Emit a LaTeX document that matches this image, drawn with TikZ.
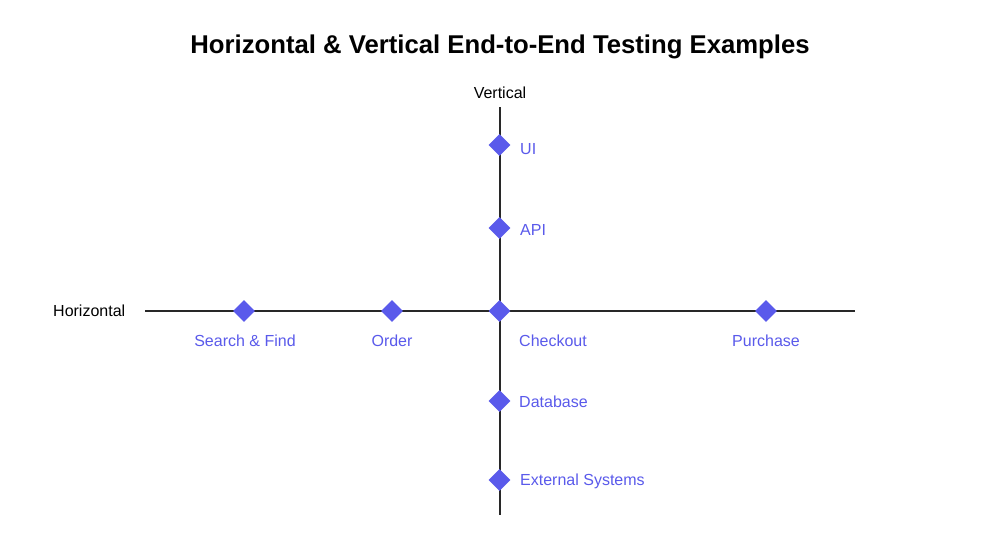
\documentclass[tikz,border=0pt]{standalone}
\usepackage{fontspec}
\setmainfont{Liberation Sans}
\usetikzlibrary{shapes.geometric}
\definecolor{accent}{RGB}{90,90,235}
\definecolor{axisgray}{RGB}{40,40,40}
\begin{document}
\begin{tikzpicture}[x=1pt,y=-1pt,
  axis/.style={draw=axisgray,line width=2pt},
  marker/.style={diamond,fill=accent,minimum width=22pt,minimum height=22pt,inner sep=0pt},
  lbl/.style={text=accent,font=\fontsize{16}{18}\selectfont,inner sep=0pt},
  axlbl/.style={text=black,font=\fontsize{16}{18}\selectfont,inner sep=0pt}]
\useasboundingbox[fill=white] (0,0) rectangle (1000,543);
\node[font=\bfseries\fontsize{25.7}{28}\selectfont] (title) at (500,46.5) {Horizontal \& Vertical End-to-End Testing Examples};
\coordinate (vtop) at (499.5,107);
\coordinate (vbot) at (499.5,515);
\coordinate (hl) at (145,311);
\coordinate (hr) at (855,311);
\draw[axis] (vtop) -- (vbot);
\draw[axis] (hl) -- (hr);
\node[axlbl] (vlabel) at (500,93) {Vertical};
\node[axlbl,anchor=west] (hlabel) at (53,311) {Horizontal};
\node[marker] (ui) at (499.5,145) {};
\node[marker] (api) at (499.5,228) {};
\node[marker] (checkout) at (499.5,311) {};
\node[marker] (db) at (499.5,401) {};
\node[marker] (ext) at (499.5,480) {};
\node[marker] (search) at (244,311) {};
\node[marker] (order) at (392,311) {};
\node[marker] (purchase) at (766,311) {};
\node[lbl,anchor=west] (uil) at (520,149) {UI};
\node[lbl,anchor=west] (apil) at (520,230) {API};
\node[lbl,anchor=west] (checkoutl) at (519,341) {Checkout};
\node[lbl,anchor=west] (dbl) at (519,402) {Database};
\node[lbl,anchor=west] (extl) at (520,481) {External Systems};
\node[lbl] (searchl) at (245,341) {Search \& Find};
\node[lbl] (orderl) at (392,341) {Order};
\node[lbl] (purchasel) at (766,341) {Purchase};
\end{tikzpicture}
\end{document}
